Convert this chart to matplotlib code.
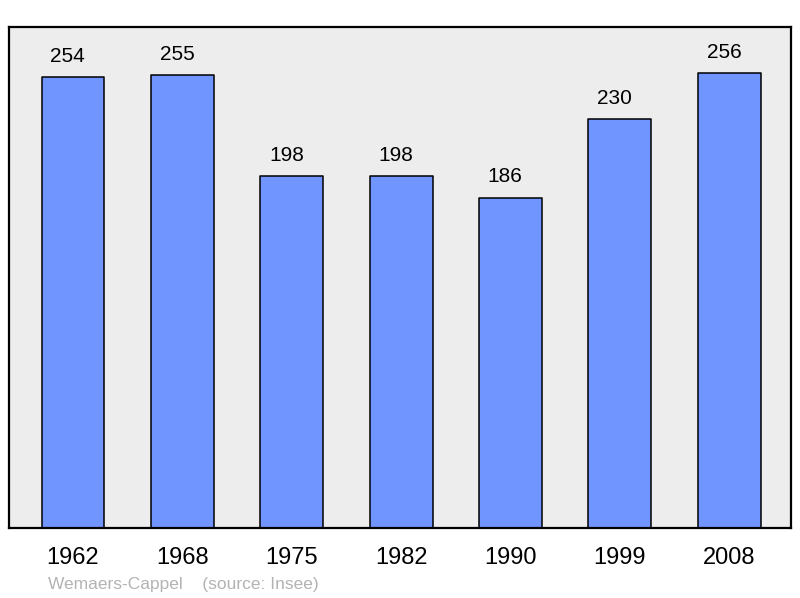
import matplotlib
matplotlib.use("Agg")
import matplotlib.pyplot as plt

# données population
years = ["1962", "1968", "1975", "1982", "1990", "1999", "2008"]
population = [254, 255, 198, 198, 186, 230, 256]
commune = "Wemaers-Cappel"
source = "(source: Insee)"

plt.rcParams['font.family'] = ['Liberation Sans', 'DejaVu Sans']

fig = plt.figure(figsize=(8, 5.98), dpi=100)
ax = fig.add_axes([9 / 800, 70 / 598, 782 / 800, 501 / 598])
ax.set_facecolor('#ededed')

x = list(range(len(years)))
bars = ax.bar(x, population, width=0.575, color='#7095ff', edgecolor='black',
              linewidth=1.1, joinstyle='round')

# étiquettes de valeur, un peu décalées à gauche comme l'original
for xi, v in zip(x, population):
    ax.annotate(str(v), (xi, v), xytext=(-3.8, 8), textcoords='offset points',
                ha='center', va='bottom', fontsize=15)

ax.set_xlim(-0.585, 6.565)
ax.set_ylim(0, 282)
ax.set_yticks([])
ax.set_xticks(x)
ax.set_xticklabels(years, fontsize=17)
ax.tick_params(axis='x', length=0, pad=13.5)
for s in ax.spines.values():
    s.set_linewidth(1.6)

fig.text(48 / 800, 1 - 584 / 598, commune + "    " + source, fontsize=12.5,
         color='#b3b3b3', va='center', ha='left')

fig.savefig('out.png', dpi=100)
